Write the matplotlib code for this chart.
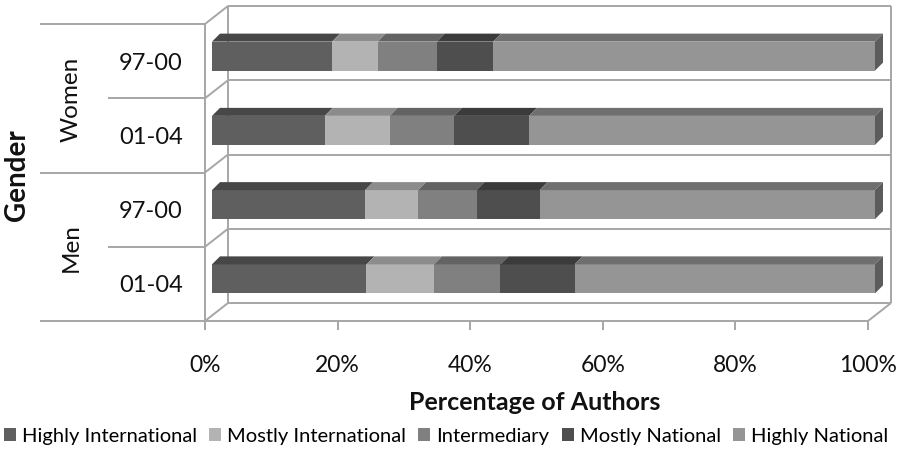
import matplotlib
matplotlib.use('Agg')
import matplotlib.pyplot as plt
from matplotlib.patches import Polygon, Patch
import numpy as np

plt.rcParams['font.family'] = ['Lato', 'DejaVu Sans']

# ---------------- data ----------------
groups = ['Women', 'Men']
periods = ['97-00', '01-04', '97-00', '01-04']
categories = ['Highly International', 'Mostly International', 'Intermediary',
              'Mostly National', 'Highly National']
highly_international = [18.1, 17.0, 23.1, 23.3]
mostly_international = [6.9, 9.8, 8.0, 10.2]
intermediary = [8.9, 9.7, 8.8, 10.0]
mostly_national = [8.5, 11.3, 9.5, 11.2]
highly_national = [57.6, 52.2, 50.6, 45.3]
xticks = [0, 20, 40, 60, 80, 100]
xtick_labels = ['0%', '20%', '40%', '60%', '80%', '100%']
xlabel = 'Percentage of Authors'
ylabel = 'Gender'

series = [highly_international, mostly_international, intermediary,
          mostly_national, highly_national]
front_colors = ['#5f5f5f', '#b3b3b3', '#808080', '#4e4e4e', '#959595']
top_colors = ['#474747', '#8c8c8c', '#636363', '#3b3b3b', '#6f6f6f']
side_color = '#5c5c5c'
wall_color = '#a6a6a6'

W, H = 902, 452
fig = plt.figure(figsize=(W / 100, H / 100), dpi=100)
ax_l, ax_r, ax_t, ax_b = 205, 868, 25, 322
ax = fig.add_axes([ax_l / W, (H - ax_b) / H, (ax_r - ax_l) / W, (ax_b - ax_t) / H])
n = len(periods)
ax.set_xlim(0, 100)
ax.set_ylim(n, 0)
ax.axis('off')

sx = (ax_r - ax_l) / 100.0
sy = (ax_b - ax_t) / n


def dxu(px):
    return px / sx


def dyu(px):
    return px / sy


# wall depth and bar depth (in pixels)
Dx, Dy = dxu(23), dyu(18)
bx, by = dxu(7), dyu(5)
ddx, ddy = dxu(8), dyu(8)
bh = dyu(29)

lw = 1.4
kw = dict(color=wall_color, lw=lw, clip_on=False, zorder=1, solid_capstyle='butt')
# left wall
ax.plot([0, 0], [0, n + dyu(9)], **kw)
for k in range(n + 1):
    ax.plot([0, Dx], [k, k - Dy], **kw)
# back wall
for k in range(n + 1):
    ax.plot([Dx, 100 + Dx], [k - Dy, k - Dy], **kw)
ax.plot([Dx, Dx], [-Dy, n - Dy], **kw)
ax.plot([100 + Dx, 100 + Dx], [-Dy, n - Dy], **kw)
# floor
ax.plot([0, 100], [n, n], **kw)
ax.plot([100, 100 + Dx], [n, n - Dy], **kw)
for t in xticks:
    ax.plot([t, t], [n, n + dyu(9)], **kw)

# category dividers at left
for k in range(n + 1):
    x0 = -dxu(205 - 40) if k % 2 == 0 else -dxu(205 - 108)
    ax.plot([x0, 0], [k, k], **kw)

# bars
yc = np.arange(n) + 0.5 - by
left = np.zeros(n)
for j, vals in enumerate(series):
    vals = np.array(vals)
    ax.barh(yc, vals, left=left + bx, height=bh, color=front_colors[j],
            linewidth=0, zorder=3, clip_on=False)
    for i in range(n):
        l = left[i] + bx
        r = l + vals[i]
        yt = yc[i] - bh / 2
        ax.add_patch(Polygon([(l, yt), (r, yt), (r + ddx, yt - ddy), (l + ddx, yt - ddy)],
                             closed=True, facecolor=top_colors[j], edgecolor='none',
                             zorder=3, clip_on=False))
    left = left + vals

for i in range(n):
    r = left[i] + bx
    yt = yc[i] - bh / 2
    yb = yc[i] + bh / 2
    ax.add_patch(Polygon([(r, yt), (r + ddx, yt - ddy), (r + ddx, yb - ddy), (r, yb)],
                         closed=True, facecolor=side_color, edgecolor='none',
                         zorder=3, clip_on=False))

# texts
for i, p in enumerate(periods):
    ax.text(-dxu(205 - 151), i + 0.5 + dyu(1), p, ha='center', va='center', fontsize=17,
            color='#111111', clip_on=False)
for g, name in enumerate(groups):
    ax.text(-dxu(205 - 71), 2 * g + 1, name, ha='center', va='center', fontsize=17.5,
            rotation=90, color='#111111', clip_on=False)
ax.text(-dxu(205 - 17), n / 2 + dyu(2), ylabel, ha='center', va='center', fontsize=20,
        rotation=90, fontweight='bold', color='#111111', clip_on=False)
for t, lab in zip(xticks, xtick_labels):
    ax.text(t, n + dyu(366 - 322), lab, ha='center', va='center', fontsize=16.5,
            color='#111111', clip_on=False)
ax.text(dxu(535 - 205), n + dyu(403 - 322), xlabel, ha='center', va='center',
        fontsize=18, fontweight='bold', color='#111111', clip_on=False)

handles = [Patch(facecolor=c, edgecolor='none', label=lab)
           for c, lab in zip(front_colors, categories)]
fig.legend(handles=handles, loc='center', bbox_to_anchor=(446 / W, 15 / H), ncol=5,
           frameon=False, fontsize=14.5, handlelength=0.6, handleheight=0.6,
           handletextpad=0.3, columnspacing=0.6, borderpad=0, borderaxespad=0)

fig.savefig('out.png', dpi=100)
